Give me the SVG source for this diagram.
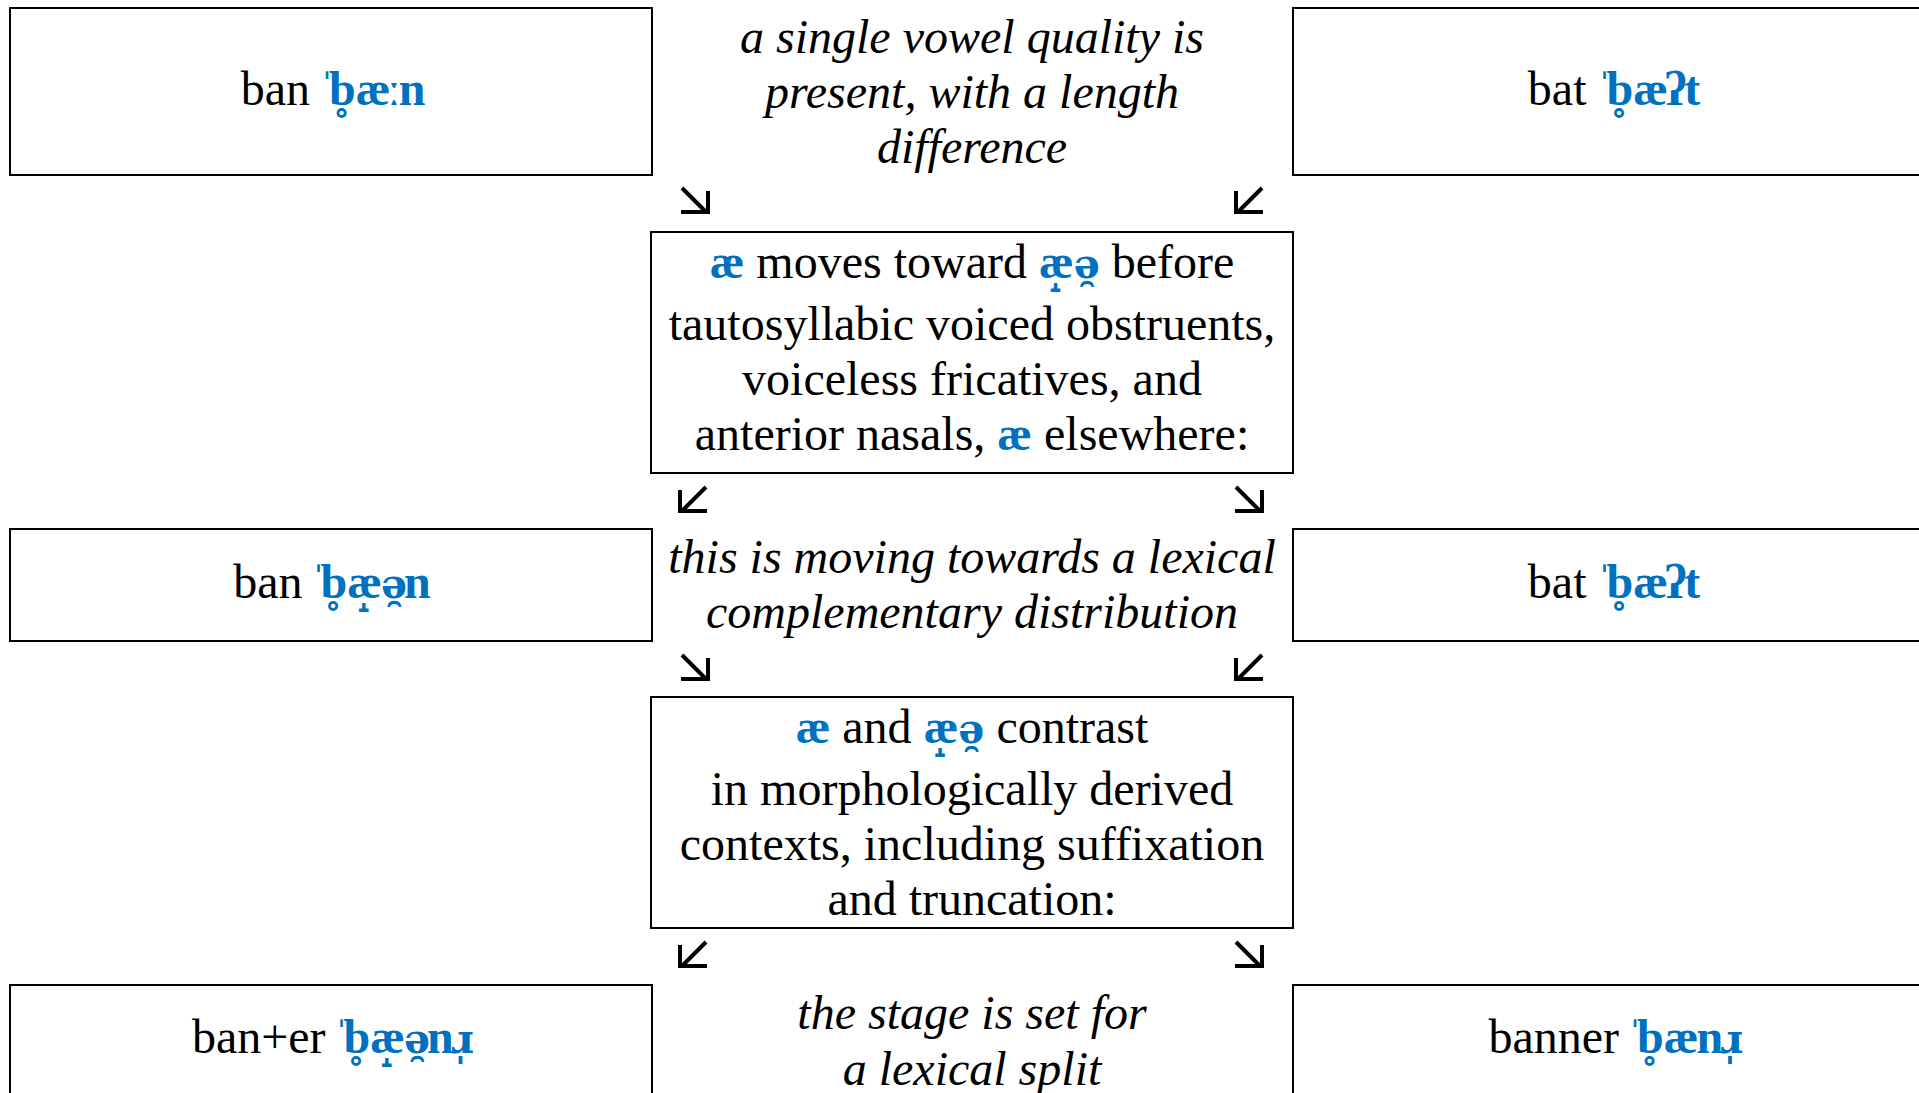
<svg xmlns="http://www.w3.org/2000/svg" width="1919" height="1093" viewBox="0 0 1919 1093">
<style>
.box{fill:#fff;stroke:#000;stroke-width:2}
.t{font-family:"Liberation Serif","Times New Roman",serif;font-size:48px;fill:#000;text-anchor:middle}
.it{font-style:italic}
.ipa{fill:#0070C0;font-weight:bold}
.dv{font-family:"DejaVu Serif",serif;font-size:41px}
.arr{fill:none;stroke:#000;stroke-width:4;stroke-linecap:butt;stroke-linejoin:miter}
</style>
<rect width="1919" height="1093" fill="#fff"/>

<g id="node-ban-1">
<rect class="box" x="10" y="8" width="642" height="167"/>
<text class="t" x="333" y="105">ban <tspan class="ipa" dx="-3">ˈ<tspan dx="-6">b̥æ</tspan><tspan dx="-3">ː</tspan><tspan dx="-2">n</tspan></tspan></text>
</g>
<g id="node-bat-1">
<rect class="box" x="1293" y="8" width="660" height="167"/>
<text class="t" x="1614" y="105">bat <tspan class="ipa" dx="-2">ˈ<tspan dx="-6">b̥æ</tspan><tspan dx="-3">ʔ</tspan><tspan dx="-2">t</tspan></tspan></text>
</g>
<g id="note-1">
<text class="t it" x="972" y="53">a single vowel quality is</text>
<text class="t it" x="972" y="108">present, with a length</text>
<text class="t it" x="972" y="163">difference</text>
</g>
<g id="node-rule">
<rect class="box" x="651" y="232" width="642" height="241"/>
<text class="t" x="972" y="278"><tspan class="ipa">æ</tspan> moves toward <tspan class="ipa">æ̝<tspan class="dv">ə̯</tspan></tspan> before</text>
<text class="t" x="972" y="340">tautosyllabic voiced obstruents,</text>
<text class="t" x="972" y="395">voiceless fricatives, and</text>
<text class="t" x="972" y="450">anterior nasals, <tspan class="ipa">æ</tspan> elsewhere:</text>
</g>
<g id="node-ban-2">
<rect class="box" x="10" y="529" width="642" height="112"/>
<text class="t" x="332" y="598">ban <tspan class="ipa" dx="-4">ˈ<tspan dx="-6">b̥æ̝</tspan><tspan class="dv" dx="-1">ə̯</tspan><tspan dx="-3">n</tspan></tspan></text>
</g>
<g id="node-bat-2">
<rect class="box" x="1293" y="529" width="660" height="112"/>
<text class="t" x="1614" y="598">bat <tspan class="ipa" dx="-2">ˈ<tspan dx="-6">b̥æ</tspan><tspan dx="-3">ʔ</tspan><tspan dx="-2">t</tspan></tspan></text>
</g>
<g id="note-2">
<text class="t it" x="972" y="573">this is moving towards a lexical</text>
<text class="t it" x="972" y="628">complementary distribution</text>
</g>
<g id="node-contrast">
<rect class="box" x="651" y="697" width="642" height="231"/>
<text class="t" x="972" y="743"><tspan class="ipa">æ</tspan> and <tspan class="ipa">æ̝<tspan class="dv">ə̯</tspan></tspan> contrast</text>
<text class="t" x="972" y="805">in morphologically derived</text>
<text class="t" x="972" y="860">contexts, including suffixation</text>
<text class="t" x="972" y="915">and truncation:</text>
</g>
<g id="node-banner-1">
<rect class="box" x="10" y="985" width="642" height="200"/>
<text class="t" x="333" y="1053">ban+er <tspan class="ipa" dx="-4">ˈ<tspan dx="-6">b̥æ̝</tspan><tspan class="dv" dx="-1">ə̯</tspan><tspan dx="-3">n</tspan><tspan class="dv" dx="-3">ɹ̩</tspan></tspan></text>
</g>
<g id="node-banner-2">
<rect class="box" x="1293" y="985" width="660" height="200"/>
<text class="t" x="1616" y="1053">banner <tspan class="ipa" dx="-4">ˈ<tspan dx="-6">b̥æ</tspan><tspan dx="-2">n</tspan><tspan class="dv" dx="-3">ɹ̩</tspan></tspan></text>
</g>
<g id="note-3">
<text class="t it" x="972" y="1029">the stage is set for</text>
<text class="t it" x="972" y="1085">a lexical split</text>
</g>

<g id="connectors">
<path class="arr" d="M682,188 L706,212 M681,212 L708,212 L708,191"/>
<path class="arr" d="M1262,188 L1238,212 M1263,212 L1236,212 L1236,191"/>
<path class="arr" d="M706,487 L682,511 M707,511 L680,511 L680,490"/>
<path class="arr" d="M1236,487 L1260,511 M1235,511 L1262,511 L1262,490"/>
<path class="arr" d="M682,655 L706,679 M681,679 L708,679 L708,658"/>
<path class="arr" d="M1262,655 L1238,679 M1263,679 L1236,679 L1236,658"/>
<path class="arr" d="M706,942 L682,966 M707,966 L680,966 L680,945"/>
<path class="arr" d="M1236,942 L1260,966 M1235,966 L1262,966 L1262,945"/>
</g>
</svg>
